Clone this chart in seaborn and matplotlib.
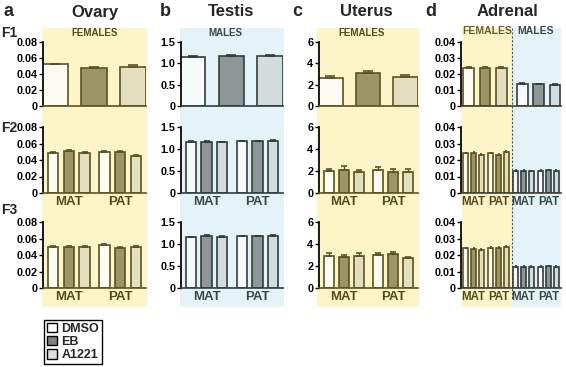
import matplotlib
matplotlib.use('Agg')
import matplotlib.pyplot as plt
from matplotlib.patches import Rectangle, Patch
from matplotlib.lines import Line2D
import seaborn as sns
import pandas as pd

treatments = ['DMSO', 'EB', 'A1221']
lineages = ['MAT', 'PAT']
generations = ['F1', 'F2', 'F3']

# --- values (rows of F2/F3 = MAT, PAT) ---
ovary_f1 = [0.052, 0.048, 0.049]
ovary_f1_err = [0.001, 0.001, 0.002]
ovary_f2 = [[0.049, 0.051, 0.049], [0.050, 0.050, 0.045]]
ovary_f2_err = [[0.001, 0.0015, 0.001], [0.001, 0.0015, 0.001]]
ovary_f3 = [[0.050, 0.050, 0.050], [0.052, 0.049, 0.050]]
ovary_f3_err = [[0.001, 0.001, 0.001], [0.001, 0.001, 0.0015]]

testis_f1 = [1.16, 1.17, 1.17]
testis_f1_err = [0.015, 0.015, 0.015]
testis_f2 = [[1.17, 1.17, 1.16], [1.18, 1.18, 1.19]]
testis_f2_err = [[0.01, 0.015, 0.01], [0.01, 0.01, 0.015]]
testis_f3 = [[1.16, 1.18, 1.17], [1.18, 1.18, 1.19]]
testis_f3_err = [[0.01, 0.015, 0.01], [0.01, 0.01, 0.015]]

uterus_f1 = [2.6, 3.05, 2.7]
uterus_f1_err = [0.2, 0.25, 0.2]
uterus_f2 = [[1.98, 2.13, 1.9], [2.13, 1.9, 1.95]]
uterus_f2_err = [[0.24, 0.3, 0.18], [0.24, 0.24, 0.27]]
uterus_f3 = [[2.95, 2.8, 2.95], [3.0, 3.1, 2.7]]
uterus_f3_err = [[0.22, 0.2, 0.22], [0.18, 0.2, 0.15]]

adrenal_f1_fem = [0.024, 0.0235, 0.024]
adrenal_f1_fem_err = [0.0005, 0.0008, 0.0005]
adrenal_f1_mal = [0.0138, 0.0137, 0.0132]
adrenal_f1_mal_err = [0.0003, 0.0003, 0.0003]
adrenal_f2_fem = [[0.024, 0.0244, 0.023], [0.024, 0.023, 0.025]]
adrenal_f2_mal = [[0.0135, 0.0135, 0.0133], [0.0134, 0.0138, 0.0136]]
adrenal_f3_fem = [[0.024, 0.0237, 0.023], [0.0245, 0.0245, 0.025]]
adrenal_f3_mal = [[0.013, 0.013, 0.013], [0.013, 0.0132, 0.013]]
adrenal_err = 0.0005

ovary_ticks = [0, 0.02, 0.04, 0.06, 0.08]
ovary_labels = ['0', '0.02', '0.04', '0.06', '0.08']
testis_ticks = [0, 0.5, 1.0, 1.5]
testis_labels = ['0', '0.5', '1.0', '1.5']
uterus_ticks = [0, 2, 4, 6]
uterus_labels = ['0', '2', '4', '6']
adrenal_ticks = [0, 0.01, 0.02, 0.03, 0.04]
adrenal_labels = ['0', '0.01', '0.02', '0.03', '0.04']

# colours
fem_pal = {'DMSO': '#fffdf2', 'EB': '#a39b5e', 'A1221': '#e9e3b8'}
mal_pal = {'DMSO': '#f6fbfb', 'EB': '#8d9797', 'A1221': '#d0dddf'}
fem_edge = '#5c5222'
mal_edge = '#323d3e'
fem_bg = '#fdf4c8'
mal_bg = '#e3f3f8'
fem_txt = '#544a1c'
mal_txt = '#3a4849'

sns.set_theme(style='ticks')
plt.rcParams['font.family'] = ['Liberation Sans', 'DejaVu Sans']
plt.rcParams['font.weight'] = 'bold'


def frame(groups, values, errors):
    rows = []
    for g, vals, errs in zip(groups, values, errors):
        for t, v, e in zip(treatments, vals, errs):
            rows.append({'group': g, 'trt': t, 'val': v, 'err': e})
    return pd.DataFrame(rows)


def draw_bars(ax, df, order, pal, edge, cap):
    n0 = len(ax.containers)
    sns.barplot(data=df, x='group', y='val', hue='trt', order=order,
                hue_order=treatments, palette=pal, width=0.92, gap=0.34,
                errorbar=None, edgecolor=edge, linewidth=1.2, legend=False, ax=ax)
    errs = {(r.group, r.trt): r.err for r in df.itertuples()}
    for trt, cont in zip(treatments, ax.containers[n0:]):
        for p in cont.patches:
            cx = p.get_x() + p.get_width() / 2
            g = order[int(round(cx))]
            ax.errorbar(cx, p.get_height(), yerr=[[0], [errs[(g, trt)]]],
                        fmt='none', ecolor=edge, elinewidth=1, capsize=cap,
                        capthick=1.2, zorder=3)


def style_axis(ax, ticks, labels, spine_col):
    ax.set_facecolor('none')
    ax.set_ylim(ticks[0], ticks[-1])
    ax.set_yticks(ticks)
    ax.set_yticklabels(labels, fontsize=7.8, fontweight='bold')
    ax.set_xlabel('')
    ax.set_ylabel('')
    sns.despine(ax=ax)
    ax.spines['left'].set_color('black')
    ax.spines['bottom'].set_color(spine_col)
    ax.spines['bottom'].set_linewidth(1.2)
    ax.tick_params(axis='y', length=3, width=1, pad=1, colors='black')
    ax.tick_params(axis='x', length=0, pad=2)


fig = plt.figure(figsize=(5.66, 3.67), dpi=100)

# column and row placement in pixels (left, right) / (top, bottom)
cols = [(43, 146), (181, 283), (319, 418), (461, 561)]
rows = [(42, 106), (127, 193), (222, 288)]
W, H = 566, 367


def make_ax(c, r):
    x0, x1 = cols[c]
    y0, y1 = rows[r]
    return fig.add_axes([x0 / W, 1 - y1 / H, (x1 - x0) / W, (y1 - y0) / H])


# background shading
for x0, x1, colr in [(42, 147, fem_bg), (180, 284, mal_bg), (317, 419, fem_bg),
                     (462, 512, fem_bg), (512, 561, mal_bg)]:
    fig.add_artist(Rectangle((x0 / W, 1 - 307 / H), (x1 - x0) / W, (307 - 28) / H,
                             transform=fig.transFigure, facecolor=colr,
                             edgecolor='none', zorder=-5))
fig.add_artist(Line2D([512 / W, 512 / W], [1 - 28 / H, 1 - 300 / H],
                      transform=fig.transFigure, color='#555555', lw=0.8,
                      ls=(0, (2, 1.5)), zorder=-4))

organs = [
    ('ovary', ovary_ticks, ovary_labels, fem_pal, fem_edge, fem_txt,
     [ovary_f1, ovary_f2, ovary_f3], [ovary_f1_err, ovary_f2_err, ovary_f3_err]),
    ('testis', testis_ticks, testis_labels, mal_pal, mal_edge, mal_txt,
     [testis_f1, testis_f2, testis_f3], [testis_f1_err, testis_f2_err, testis_f3_err]),
    ('uterus', uterus_ticks, uterus_labels, fem_pal, fem_edge, fem_txt,
     [uterus_f1, uterus_f2, uterus_f3], [uterus_f1_err, uterus_f2_err, uterus_f3_err]),
]

for c, (name, ticks, labels, pal, edge, txt, vals, errs) in enumerate(organs):
    for r in range(3):
        ax = make_ax(c, r)
        if r == 0:
            df = frame(['F1'], [vals[0]], [errs[0]])
            draw_bars(ax, df, ['F1'], pal, edge, 3.5)
            ax.set_xlim(-0.4, 0.41)
            ax.set_xticks([])
        else:
            df = frame(lineages, vals[r], errs[r])
            draw_bars(ax, df, lineages, pal, edge, 2)
            ax.set_xlim(-0.5, 1.5)
            ax.set_xticks([0, 1])
            ax.set_xticklabels(lineages, fontsize=9.5, fontweight='bold', color=txt)
        style_axis(ax, ticks, labels, edge)

# adrenal: females and males side by side
for r in range(3):
    ax = make_ax(3, r)
    if r == 0:
        order = ['F', 'M']
        draw_bars(ax, frame(['F'], [adrenal_f1_fem], [adrenal_f1_fem_err]),
                  order, fem_pal, fem_edge, 2)
        draw_bars(ax, frame(['M'], [adrenal_f1_mal], [adrenal_f1_mal_err]),
                  order, mal_pal, mal_edge, 2)
        ax.set_xlim(-0.45, 1.42)
        ax.set_xticks([])
    else:
        fem = adrenal_f2_fem if r == 1 else adrenal_f3_fem
        mal = adrenal_f2_mal if r == 1 else adrenal_f3_mal
        order = ['MAT_F', 'PAT_F', 'MAT_M', 'PAT_M']
        draw_bars(ax, frame(order[:2], fem, [[adrenal_err] * 3] * 2),
                  order, fem_pal, fem_edge, 1)
        draw_bars(ax, frame(order[2:], mal, [[adrenal_err / 2] * 3] * 2),
                  order, mal_pal, mal_edge, 1)
        ax.set_xlim(-0.5, 3.5)
        ax.set_xticks([0, 1, 2, 3])
        ax.set_xticklabels(lineages * 2, fontsize=8.3, fontweight='bold')
        for i, lab in enumerate(ax.get_xticklabels()):
            lab.set_color(fem_txt if i < 2 else mal_txt)
    style_axis(ax, adrenal_ticks, adrenal_labels, '#3f3f30')

# titles, panel letters, generation labels
for letter, lx, title, tx in [('a', 4, 'Ovary', 95), ('b', 160, 'Testis', 231),
                              ('c', 292, 'Uterus', 366), ('d', 425, 'Adrenal', 507)]:
    fig.text(lx / W, 1 - 11 / H, letter, fontsize=13, fontweight='bold', va='center')
    fig.text(tx / W, 1 - 12 / H, title, fontsize=12, fontweight='bold',
             ha='center', va='center')
for g, gy in zip(generations, [33, 128, 210]):
    fig.text(1 / W, 1 - gy / H, g, fontsize=10, fontweight='bold', va='center')

for s, sx, sy, col, fs in [('FEMALES', 95, 33, fem_txt, 7), ('MALES', 225, 33, mal_txt, 7),
                           ('FEMALES', 362, 33, fem_txt, 7), ('FEMALES', 487, 31, '#6b5d24', 7.5),
                           ('MALES', 536, 31, mal_txt, 7.5)]:
    fig.text(sx / W, 1 - sy / H, s, fontsize=fs, fontweight='bold', color=col,
             ha='center', va='center')

legend_cols = {'DMSO': 'white', 'EB': '#7f7f7f', 'A1221': '#dedede'}
handles = [Patch(facecolor=legend_cols[t], edgecolor='black', label=t) for t in treatments]
fig.legend(handles=handles, loc='upper left', bbox_to_anchor=(44 / W, 1 - 320 / H),
           frameon=True, fancybox=False, edgecolor='black', framealpha=1,
           prop={'size': 9, 'weight': 'bold'}, handlelength=0.8, handleheight=0.8,
           handletextpad=0.4, labelspacing=0.1, borderpad=0.2, borderaxespad=0)

fig.savefig('out.png', dpi=100)
